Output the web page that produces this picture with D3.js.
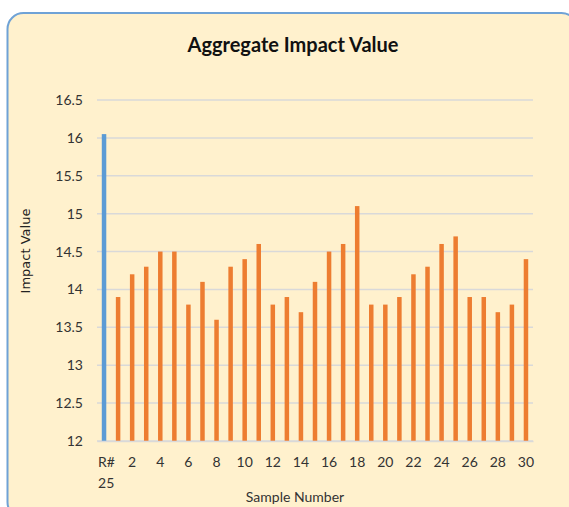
<!DOCTYPE html>
<html><head><meta charset="utf-8">
<script src="https://cdn.jsdelivr.net/npm/d3@7"></script>
<style>body{margin:0;background:#fff;}svg{display:block;}</style>
</head><body>
<script>
const categories = ["R#25","1","2","3","4","5","6","7","8","9","10","11","12","13","14","15","16","17","18","19","20","21","22","23","24","25","26","27","28","29","30"];
const values = [16.05,13.9,14.2,14.3,14.5,14.5,13.8,14.1,13.6,14.3,14.4,14.6,13.8,13.9,13.7,14.1,14.5,14.6,15.1,13.8,13.8,13.9,14.2,14.3,14.6,14.7,13.9,13.9,13.7,13.8,14.4];
const yTicks = [12,12.5,13,13.5,14,14.5,15,15.5,16,16.5];
const xTickLabels = ["R#25","2","4","6","8","10","12","14","16","18","20","22","24","26","28","30"];
const title = "Aggregate Impact Value";
const xTitle = "Sample Number";
const yTitle = "Impact Value";

const W = 569, H = 507;
const svg = d3.select("body").append("svg").attr("width", W).attr("height", H);
const font = "Lato, 'Open Sans', sans-serif";

svg.append("rect").attr("x",7.5).attr("y",13).attr("width",570).attr("height",505)
  .attr("rx",16).attr("fill","#fff1cd").attr("stroke","#6fa2d6").attr("stroke-width",2);

const x = d3.scaleBand().domain(categories).range([97,533]).paddingInner(0.68).paddingOuter(0.34);
const y = d3.scaleLinear().domain([12,16.5]).range([441,100]);

// gridlines
svg.append("g").selectAll("line").data(yTicks).join("line")
  .attr("x1",97).attr("x2",533).attr("y1",d=>y(d)).attr("y2",d=>y(d))
  .attr("stroke","#d9d9d9").attr("stroke-width",1.5);

// y axis labels
const yAxis = d3.axisLeft(y).tickValues(yTicks).tickSize(0).tickPadding(14).tickFormat(d3.format("~g"));
const ya = svg.append("g").attr("transform","translate(97,0)").call(yAxis);
ya.select(".domain").remove();
ya.selectAll("text").attr("font-family",font).attr("font-size",14).attr("fill","#333");

// bars
svg.append("g").selectAll("rect").data(values).join("rect")
  .attr("x",(d,i)=>x(categories[i]))
  .attr("width",x.bandwidth())
  .attr("y",d=>y(d))
  .attr("height",d=>y(12)-y(d))
  .attr("fill",(d,i)=>i===0?"#5b9bd5":"#ed7d31");

// x axis
const xAxis = d3.axisBottom(x).tickValues(xTickLabels).tickSize(0).tickPadding(0).tickFormat(()=> "");
const xa = svg.append("g").attr("transform","translate(0,441)").call(xAxis);
xa.select(".domain").attr("stroke","#d9d9d9").attr("stroke-width",1.5);
xa.selectAll(".tick").each(function(d){
  const g = d3.select(this);
  g.selectAll("text").remove();
  const lines = d==="R#25" ? ["R#","25"] : [d];
  lines.forEach((t,k)=>{
    g.append("text").attr("y",26+k*21).attr("text-anchor",d==="R#25"?"start":"middle")
      .attr("x",d==="R#25"?-6:0)
      .attr("font-family",font).attr("font-size",14).attr("fill","#333").text(t);
  });
});

svg.append("text").attr("x",293).attr("y",52).attr("text-anchor","middle")
  .attr("font-family",font).attr("font-weight","bold").attr("font-size",20).attr("fill","#111").text(title);
svg.append("text").attr("x",295).attr("y",502).attr("text-anchor","middle")
  .attr("font-family",font).attr("font-size",14).attr("fill","#333").text(xTitle);
svg.append("text").attr("transform","translate(30,251) rotate(-90)").attr("text-anchor","middle")
  .attr("font-family","'DejaVu Sans', sans-serif").attr("font-size",13).attr("fill","#222").text(yTitle);
</script>
</body></html>
